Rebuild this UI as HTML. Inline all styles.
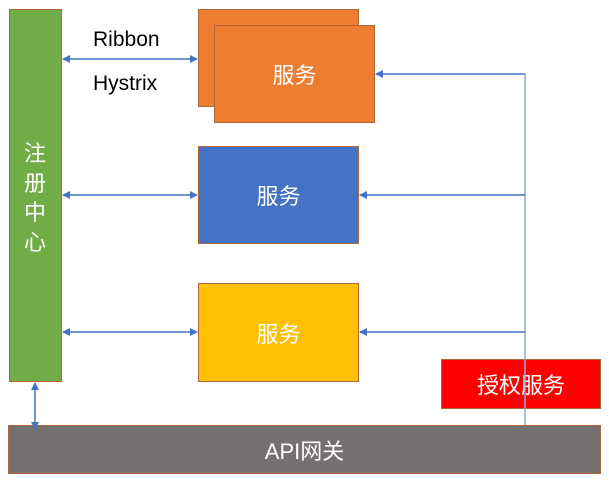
<!DOCTYPE html>
<html><head><meta charset="utf-8"><style>
body{margin:0;width:609px;height:482px;background:#fff;position:relative;overflow:hidden;font-family:"Liberation Sans","Noto Sans CJK SC",sans-serif}
.b{position:absolute;box-sizing:border-box;border:1px solid #b5653a;color:#fff;display:flex;align-items:center;justify-content:center;font-size:22px}
.t{position:absolute;font-size:21px;color:#000}
</style></head><body>
<div class="b" style="left:9px;top:9px;width:53px;height:373px;background:#70ad47;"></div>
<div style="position:absolute;left:22px;top:139px;width:26px;color:#fff;font-size:22px;line-height:29.5px;text-align:center">注<br>册<br>中<br>心</div>
<div class="b" style="left:198px;top:9px;width:161px;height:98px;background:#ed7d31;"></div>
<div class="b" style="left:214px;top:25px;width:161px;height:98px;background:#ed7d31;">服务</div>
<div class="b" style="left:198px;top:146px;width:161px;height:98px;background:#4472c4;">服务</div>
<div class="b" style="left:198px;top:283px;width:161px;height:99px;background:#ffc000;">服务</div>
<div class="b" style="left:441px;top:359px;width:160px;height:50px;background:#ff0000;">授权服务</div>
<div class="b" style="left:8px;top:425px;width:593px;height:49px;background:#767171;">API网关</div>
<div class="t" style="left:93px;top:28px">Ribbon</div>
<div class="t" style="left:93px;top:72px">Hystrix</div>
<svg width="609" height="482" style="position:absolute;left:0;top:0">
<defs><marker id="a" markerWidth="8" markerHeight="8" refX="7" refY="4" orient="auto-start-reverse" markerUnits="userSpaceOnUse"><path d="M0,0 L8,4 L0,8z" fill="#4472c4"/></marker></defs>
<g stroke="#4472c4" stroke-width="1.5" fill="none">
<line x1="63" y1="59" x2="197" y2="59" marker-start="url(#a)" marker-end="url(#a)"/>
<line x1="63" y1="195" x2="197" y2="195" marker-start="url(#a)" marker-end="url(#a)"/>
<line x1="63" y1="332" x2="197" y2="332" marker-start="url(#a)" marker-end="url(#a)"/>
<line x1="35" y1="383" x2="35" y2="429" marker-start="url(#a)" marker-end="url(#a)"/>
<line x1="525" y1="74" x2="525" y2="425" stroke="#8eaadb"/>
<line x1="525" y1="74" x2="376" y2="74" marker-end="url(#a)"/>
<line x1="525" y1="195" x2="360" y2="195" marker-end="url(#a)"/>
<line x1="525" y1="332" x2="360" y2="332" marker-end="url(#a)"/>
</g></svg>
</body></html>
